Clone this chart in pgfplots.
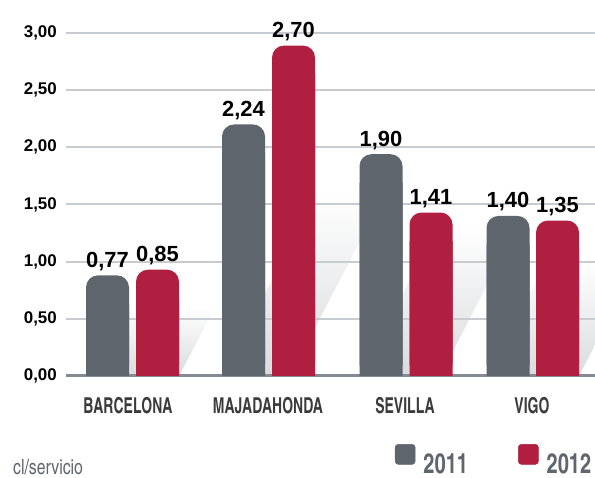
\documentclass[border=0pt]{standalone}
\usepackage{pgfplots}
\pgfplotsset{compat=1.18}
\usepackage{pgfplotstable}
\usepackage{fontspec}
\setmainfont{Liberation Sans}
\newfontfamily\cond{texgyreheroscn}[Extension=.otf, UprightFont=*-regular, BoldFont=*-bold, FakeStretch=0.78]
\newfontfamily\condl{texgyreheroscn}[Extension=.otf, UprightFont=*-regular, BoldFont=*-bold, FakeStretch=0.88]
\newfontfamily\condn{texgyreheroscn}[Extension=.otf, UprightFont=*-regular, BoldFont=*-bold, FakeStretch=0.92]

\definecolor{barGray}{HTML}{5E656D}
\definecolor{barRed}{HTML}{B01E40}
\definecolor{gridGray}{HTML}{C8CCD1}
\definecolor{axisGray}{HTML}{858B92}
\definecolor{labelText}{HTML}{3B3B3B}
\definecolor{legendGray}{HTML}{5F666E}
\definecolor{shadowGray}{HTML}{D9DBDE}

% x = bar centre (chart units), h = bar height as drawn, lab = printed value
\pgfplotstableread{
x h lab
107.5 0.88 0,77
243.5 2.20 2,24
381 1.94 1,90
508 1.40 1,40
}\grayt
\pgfplotstableread{
x h lab
157.5 0.93 0,85
293.5 2.89 2,70
431 1.43 1,41
557.5 1.36 1,35
}\redt

\begin{document}
\begin{tikzpicture}
\begin{axis}[
  set layers,
  at={(66bp,102bp)}, anchor=south west,
  scale only axis, width=529bp, height=343bp,
  xmin=66, xmax=595, ymin=0, ymax=3,
  clip=false,
  axis line style={draw=none},
  tick style={draw=none},
  ytick={0,0.5,1,1.5,2,2.5,3},
  ymajorgrids, grid style={gridGray, line width=2bp},
  extra y ticks={0}, extra y tick labels={},
  extra y tick style={grid style={axisGray, line width=3bp}},
  xtick={128,268,405,532},
  xticklabels={BARCELONA,MAJADAHONDA,SEVILLA,VIGO},
  xticklabel style={font=\cond\bfseries\fontsize{22}{22}\selectfont, text=labelText, anchor=north, inner sep=0pt, yshift=-21bp},
  /pgf/number format/assume math mode=true,
  yticklabel style={font=\bfseries\fontsize{17}{17}\selectfont, text=black, anchor=east, inner sep=0pt, xshift=-9bp},
  yticklabel={\pgfmathprintnumber[fixed,fixed zerofill,precision=2,use comma]{\tick}},
  legend columns=2,
  legend style={draw=none, fill=none, inner sep=0pt, outer sep=0pt,
    at={(0.6219,-0.2886)}, anchor=south west,
    font=\condl\bfseries\fontsize{28}{28}\selectfont, text=legendGray,
    nodes={inner sep=0pt},
    /tikz/every odd column/.append style={column sep=8bp},
    /tikz/every even column/.append style={column sep=50bp}},
]
% background shadows
\addplot[forget plot, on layer=axis background, draw=none, top color=white, bottom color=shadowGray] coordinates {(86,0) (179,0) (215,0.6) (122,0.6)} -- cycle;
\addplot[forget plot, on layer=axis background, draw=none, top color=white, bottom color=shadowGray] coordinates {(222,0) (290,0) (385,1.6) (317,1.6)} -- cycle;
\addplot[forget plot, on layer=axis background, draw=none, top color=white, bottom color=shadowGray] coordinates {(360,0) (440,0) (517,1.3) (437,1.3)} -- cycle;
\addplot[forget plot, on layer=axis background, draw=none, top color=white, bottom color=shadowGray] coordinates {(487,0) (579,0) (638,1.0) (546,1.0)} -- cycle;

% 2011
\addplot[forget plot, ybar, bar width=43, bar shift=0pt, fill=barGray, draw=none] table[x=x, y expr=\thisrow{h}-0.25] {\grayt};
\addplot[forget plot, ybar, bar width=43, bar shift=0pt, fill=barGray, draw=none, rounded corners=12bp,
  nodes near coords, point meta=explicit symbolic,
  every node near coord/.append style={font=\bfseries\fontsize{22}{22}\selectfont, text=black, anchor=base, inner sep=0pt, yshift=8bp}]
  table[x=x, y=h, meta=lab] {\grayt};
% 2012
\addplot[forget plot, ybar, bar width=43, bar shift=0pt, fill=barRed, draw=none] table[x=x, y expr=\thisrow{h}-0.25] {\redt};
\addplot[forget plot, ybar, bar width=43, bar shift=0pt, fill=barRed, draw=none, rounded corners=12bp,
  nodes near coords, point meta=explicit symbolic,
  every node near coord/.append style={font=\bfseries\fontsize{22}{22}\selectfont, text=black, anchor=base, inner sep=0pt, yshift=8bp}]
  table[x=x, y=h, meta=lab] {\redt};

\addlegendimage{legend image code/.code={\fill[barGray, rounded corners=3bp] (0bp,0bp) rectangle (20bp,20bp);}}
\addlegendentry{2011}
\addlegendimage{legend image code/.code={\fill[barRed, rounded corners=3bp] (0bp,0bp) rectangle (20bp,20bp);}}
\addlegendentry{2012}

\node[anchor=base west, inner sep=0pt, font=\condn\fontsize{21}{21}\selectfont, text=legendGray] at (axis description cs:-0.1002,-0.2886) {cl/servicio};
\end{axis}
\pgfresetboundingbox
\path[use as bounding box] (0,0) rectangle (595bp,478bp);
\end{tikzpicture}
\end{document}
